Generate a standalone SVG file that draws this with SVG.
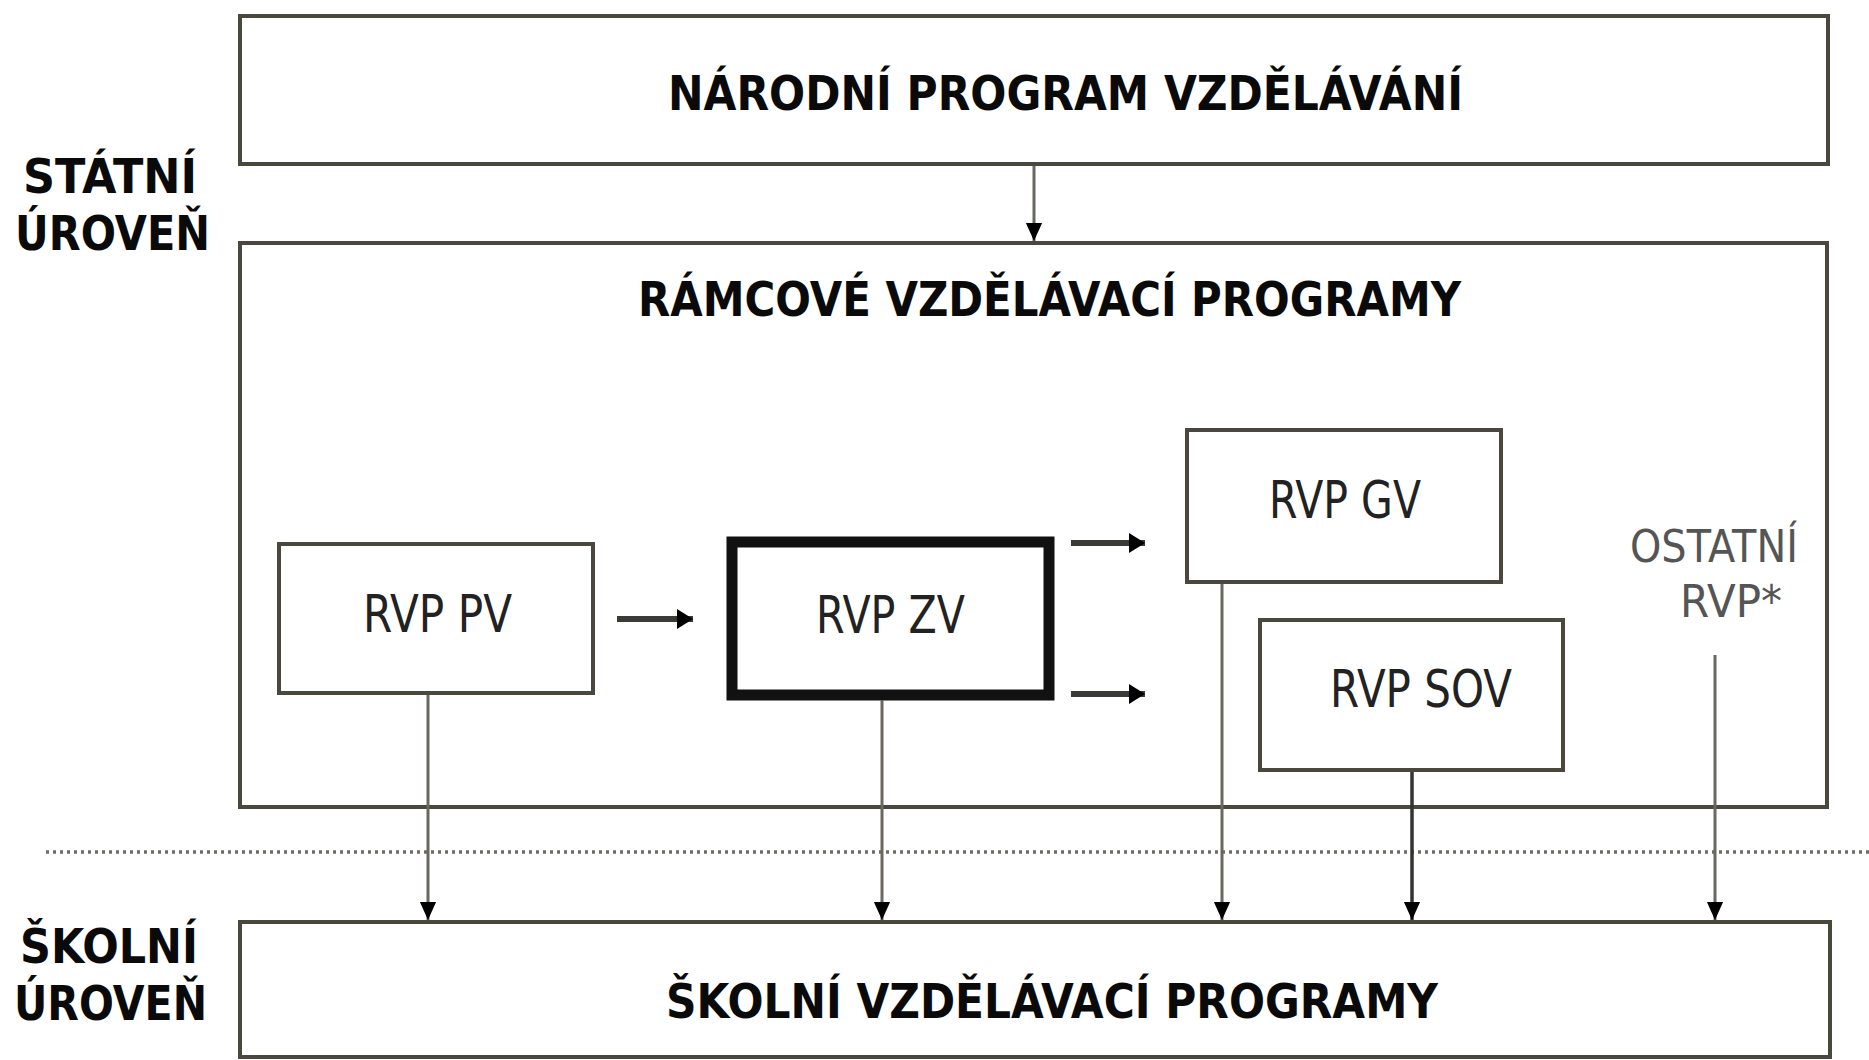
<svg xmlns="http://www.w3.org/2000/svg" width="1869" height="1060" viewBox="0 0 1869 1060">
<style>
.box{fill:#fff;stroke:#4a473f;stroke-width:4}
.thick{fill:#fff;stroke:#111;stroke-width:11}
.bold{font-family:"DejaVu Sans","Liberation Sans",sans-serif;font-weight:bold;font-size:48px;fill:#0a0a0a}
.reg{font-family:"DejaVu Sans","Liberation Sans",sans-serif;font-size:52px;fill:#222}
.gray{font-family:"DejaVu Sans","Liberation Sans",sans-serif;font-size:44px;fill:#555}
.conn{stroke:#6a675e;stroke-width:3;fill:none}
.connd{stroke:#333;stroke-width:3.5;fill:none}
.harr{stroke:#3a3a36;stroke-width:6;fill:none}
</style>
<defs>
<marker id="ah" markerUnits="userSpaceOnUse" markerWidth="18" markerHeight="20" viewBox="0 0 20 18" refX="20" refY="9" orient="auto">
<path d="M0,0 L20,9 L0,18 Z" fill="#000"/>
</marker>
<marker id="ahh" markerUnits="userSpaceOnUse" markerWidth="16" markerHeight="20" viewBox="0 0 16 20" refX="16" refY="10" orient="auto">
<path d="M0,0 L16,10 L0,20 Z" fill="#000"/>
</marker>
</defs>
<rect width="1869" height="1060" fill="#fff"/>

<g id="level-labels">
<text class="bold" x="23" y="193" textLength="174" lengthAdjust="spacingAndGlyphs">STÁTNÍ</text>
<text class="bold" x="15" y="250" textLength="195" lengthAdjust="spacingAndGlyphs">ÚROVEŇ</text>
<text class="bold" x="20" y="963" textLength="178" lengthAdjust="spacingAndGlyphs">ŠKOLNÍ</text>
<text class="bold" x="14" y="1020" textLength="193" lengthAdjust="spacingAndGlyphs">ÚROVEŇ</text>
</g>

<line id="divider" x1="46" y1="852" x2="1869" y2="852" stroke="#6f6c62" stroke-width="3.5" stroke-dasharray="3 4"/>

<g id="npv">
<rect class="box" x="240" y="16" width="1588" height="148"/>
<text class="bold" x="668" y="110" textLength="795" lengthAdjust="spacingAndGlyphs">NÁRODNÍ PROGRAM VZDĚLÁVÁNÍ</text>
</g>

<g id="rvp">
<rect class="box" x="240" y="243" width="1587" height="564"/>
<text class="bold" x="638" y="316" textLength="823" lengthAdjust="spacingAndGlyphs">RÁMCOVÉ VZDĚLÁVACÍ PROGRAMY</text>
</g>

<g id="rvp-pv">
<rect class="box" x="279" y="544" width="314" height="149"/>
<text class="reg" x="363" y="632" textLength="149" lengthAdjust="spacingAndGlyphs">RVP PV</text>
</g>

<g id="rvp-zv">
<rect class="thick" x="732" y="542" width="317" height="153"/>
<text class="reg" x="816" y="633" textLength="149" lengthAdjust="spacingAndGlyphs">RVP ZV</text>
</g>

<g id="rvp-gv">
<rect class="box" x="1187" y="430" width="314" height="152"/>
<text class="reg" x="1269" y="518" textLength="152" lengthAdjust="spacingAndGlyphs">RVP GV</text>
</g>

<g id="rvp-sov">
<rect class="box" x="1260" y="620" width="303" height="150"/>
<text class="reg" x="1330" y="707" textLength="182" lengthAdjust="spacingAndGlyphs">RVP SOV</text>
</g>

<g id="ostatni">
<text class="gray" x="1630" y="562" textLength="168" lengthAdjust="spacingAndGlyphs">OSTATNÍ</text>
<text class="gray" x="1680" y="617" textLength="102" lengthAdjust="spacingAndGlyphs">RVP*</text>
</g>

<g id="svp">
<rect class="box" x="240" y="922" width="1590" height="135"/>
<text class="bold" x="666" y="1018" textLength="772" lengthAdjust="spacingAndGlyphs">ŠKOLNÍ VZDĚLÁVACÍ PROGRAMY</text>
</g>

<g id="connectors">
<line class="conn" x1="1034" y1="166" x2="1034" y2="241" marker-end="url(#ah)"/>
<line class="harr" x1="617" y1="619" x2="693" y2="619" marker-end="url(#ahh)"/>
<line class="harr" x1="1071" y1="543" x2="1145" y2="543" marker-end="url(#ahh)"/>
<line class="harr" x1="1071" y1="694" x2="1145" y2="694" marker-end="url(#ahh)"/>
<line class="conn" x1="428" y1="695" x2="428" y2="920" marker-end="url(#ah)"/>
<line class="conn" x1="882" y1="700" x2="882" y2="920" marker-end="url(#ah)"/>
<line class="conn" x1="1222" y1="584" x2="1222" y2="920" marker-end="url(#ah)"/>
<line class="connd" x1="1412" y1="772" x2="1412" y2="920" marker-end="url(#ah)"/>
<line class="conn" x1="1715" y1="655" x2="1715" y2="920" marker-end="url(#ah)"/>
</g>
</svg>
